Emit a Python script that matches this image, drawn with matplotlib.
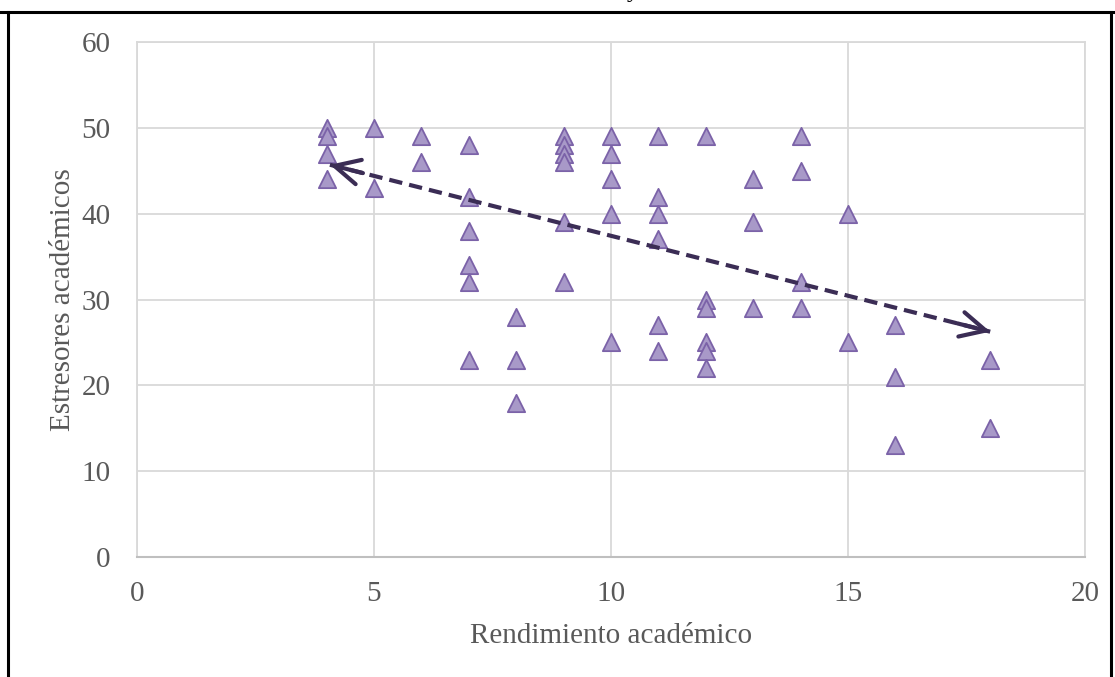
import numpy as np
import matplotlib.pyplot as plt
from matplotlib.lines import Line2D

# rendimiento academico (x) vs estresores academicos (y)
rendimiento = [4, 4, 4, 4,
               5, 5,
               6, 6,
               7, 7, 7, 7, 7, 7,
               8, 8, 8,
               9, 9, 9, 9, 9, 9,
               10, 10, 10, 10, 10,
               11, 11, 11, 11, 11, 11,
               12, 12, 12, 12, 12, 12,
               13, 13, 13,
               14, 14, 14, 14,
               15, 15,
               16, 16, 16,
               18, 18]
estresores = [50, 49, 47, 44,
              50, 43,
              49, 46,
              48, 42, 38, 34, 32, 23,
              28, 23, 18,
              49, 48, 47, 46, 39, 32,
              49, 47, 44, 40, 25,
              49, 42, 40, 37, 27, 24,
              49, 30, 29, 25, 24, 22,
              44, 39, 29,
              49, 45, 32, 29,
              40, 25,
              27, 21, 13,
              23, 15]

# ends of the dashed trend arrow
trend_x = [4.07, 18.0]
trend_y = [45.7, 26.25]

x_ticks = [0, 5, 10, 15, 20]
y_ticks = [0, 10, 20, 30, 40, 50, 60]

serif = ['Liberation Serif', 'DejaVu Serif']
tick_color = '#595959'
grid_color = '#d9d9d9'
line_color = '#3b2d55'

fig = plt.figure(figsize=(11.15, 6.77), dpi=100)
ax = fig.add_axes([137 / 1115, 1 - 557 / 677, 948 / 1115, 515 / 677])

ax.set_xlim(0, 20)
ax.set_ylim(0, 60)
ax.set_xticks(x_ticks)
ax.set_yticks(y_ticks)
ax.grid(True, color=grid_color, lw=1.3)
ax.set_axisbelow(True)
for side in ['top', 'right', 'left']:
    ax.spines[side].set_color(grid_color)
    ax.spines[side].set_linewidth(1.3)
ax.spines['bottom'].set_color('#bfbfbf')
ax.spines['bottom'].set_linewidth(1.5)
ax.tick_params(length=0, labelsize=21, labelcolor=tick_color, pad=17)
ax.tick_params(axis='y', pad=19)
for lab in ax.get_xticklabels() + ax.get_yticklabels():
    lab.set_family(serif)

ax.scatter(rendimiento, estresores, marker='^', s=155, facecolor='#a899c8',
           edgecolor='#7b62a8', linewidth=1.3, zorder=3)

# dashed trend line with open heads at both ends
ax.plot(trend_x, trend_y, ls=(0, (3.2, 1.7)), lw=3.0, color=line_color, zorder=4)
dx = trend_x[1] - trend_x[0]
dy = trend_y[1] - trend_y[0]
for i, sgn in [(0, 1), (1, -1)]:
    ax.annotate('', xy=(trend_x[i], trend_y[i]),
                xytext=(trend_x[i] + sgn * 0.05 * dx, trend_y[i] + sgn * 0.05 * dy),
                arrowprops=dict(arrowstyle='->,head_length=1.8,head_width=0.9',
                                lw=3.0, color=line_color, shrinkA=0, shrinkB=0),
                zorder=5)

ax.set_xlabel('Rendimiento académico', family=serif, fontsize=21,
              color=tick_color, labelpad=12)
ax.set_ylabel('Estresores académicos', family=serif, fontsize=21,
              color=tick_color, labelpad=4)

# frame around the chart (bottom edge is cut off in the original)
fig.add_artist(Line2D([8 / 1115, 8 / 1115], [0, 1 - 12 / 677], color='black', lw=2.2))
fig.add_artist(Line2D([1111 / 1115, 1111 / 1115], [0, 1 - 12 / 677], color='black', lw=2.2))
fig.add_artist(Line2D([0, 1], [1 - 12 / 677, 1 - 12 / 677], color='black', lw=2.2))

# only the tail of the title's "y" shows at the top edge
fig.text(633 / 1115, 1 + 3 / 677, 'y', family=serif, fontsize=18,
         ha='center', va='baseline', color='black')

fig.savefig('out.png', dpi=100)
